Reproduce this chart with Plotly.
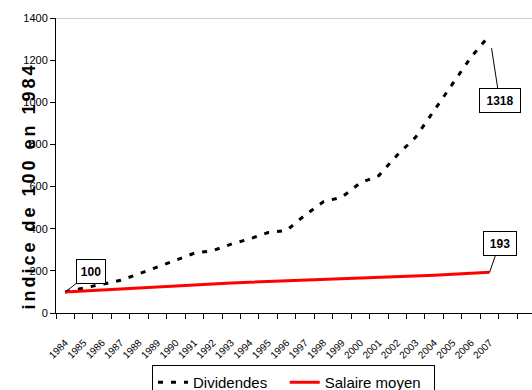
import plotly.graph_objects as go

years = list(range(1984, 2008))
year_labels = [str(y) for y in years]
dividendes = [100, 119, 137, 155, 186, 220, 251, 284, 296, 327, 352, 382,
              392, 465, 528, 550, 618, 652, 750, 835, 960, 1085, 1215, 1318]
salaire = [100, 105, 110, 115, 120, 125, 130, 135, 139, 142, 146, 149,
           152, 155, 158, 161, 164, 167, 171, 175, 179, 184, 188, 193]
boundaries = [y - 0.5 for y in range(1984, 2010)]
y_ticks = list(range(0, 1401, 200))

fig = go.Figure()
fig.add_trace(go.Scatter(x=years, y=dividendes, mode="lines",
                         name="Dividendes\u00a0\u00a0\u00a0",
                         line=dict(color="black", width=3, dash="5px,8px")))
fig.add_trace(go.Scatter(x=years, y=salaire, mode="lines",
                         name="Salaire moyen\u00a0\u00a0",
                         line=dict(color="#FF0000", width=3)))

fig.update_layout(
    width=532, height=390,
    margin=dict(l=56, r=0, t=18, b=77, autoexpand=False),
    paper_bgcolor="white", plot_bgcolor="white",
    font=dict(family="Liberation Sans, Arial, sans-serif", color="black"),
    showlegend=True,
    legend=dict(orientation="h", xref="container", yref="container",
                x=152 / 532, xanchor="left", y=1 - 365 / 390, yanchor="top",
                bordercolor="black", borderwidth=1, bgcolor="white",
                font=dict(size=15, family="Liberation Sans, Arial"),
                itemwidth=30),
    xaxis=dict(range=[1983.5, 2009.3], showgrid=False, zeroline=False,
               showline=True, linecolor="black", linewidth=1, automargin=False,
               tickmode="array", tickvals=years, ticktext=year_labels,
               ticks="outside", ticklen=19, tickcolor="rgba(0,0,0,0)",
               tickangle=-45,
               tickfont=dict(size=10, family="Liberation Sans, Arial"),
               minor=dict(tickmode="array", tickvals=boundaries, ticks="outside",
                          ticklen=5, tickcolor="black", tickwidth=1, showgrid=False)),
    yaxis=dict(range=[0, 1400], showgrid=False, zeroline=False, automargin=False,
               showline=True, linecolor="black", linewidth=1,
               tickmode="array", tickvals=y_ticks, ticks="outside", ticklen=5,
               tickcolor="black", tickfont=dict(size=11)),
)

# top border line
fig.add_shape(type="line", xref="paper", yref="y", x0=0, x1=1, y0=1400, y1=1400,
              line=dict(color="#999999", width=1))

# y title (annotation index 0)
fig.add_annotation(text="<b>indice de 100 en 1984</b>", textangle=-90,
                   xref="paper", yref="paper",
                   x=(29 - 56) / 476, y=(313 - 186) / 295,
                   xanchor="center", yanchor="middle", showarrow=False,
                   font=dict(size=18, family="Liberation Sans, Arial"))

callout_font = dict(size=12, family="Liberation Sans, Arial", color="black")
for xv, yv, txt, ax, ay, so, w in [(1984, 100, "100", 26, -20, 0, 20),
                                   (2007, 1318, "1318", 10, 65, 13, 32),
                                   (2007, 193, "193", 10, -29, 0, 24)]:
    fig.add_annotation(x=xv, y=yv, text="<b>" + txt + "</b>", showarrow=True,
                       arrowhead=0, arrowwidth=1, arrowcolor="black",
                       ax=ax, ay=ay, standoff=so, width=w, height=15,
                       bordercolor="black", borderwidth=1, borderpad=4, bgcolor="white",
                       font=callout_font)

post = """
document.body.style.margin = '0';
document.body.style.overflow = 'hidden';
var root = document.getElementById('{plot_id}');
if (root) {
  var el = root.querySelector('g.annotation[data-index="0"] text.annotation-text');
  if (el) { el.style.letterSpacing = '3px'; }
}
"""
fig.write_html("out.html", post_script=post, config={"displayModeBar": False})
